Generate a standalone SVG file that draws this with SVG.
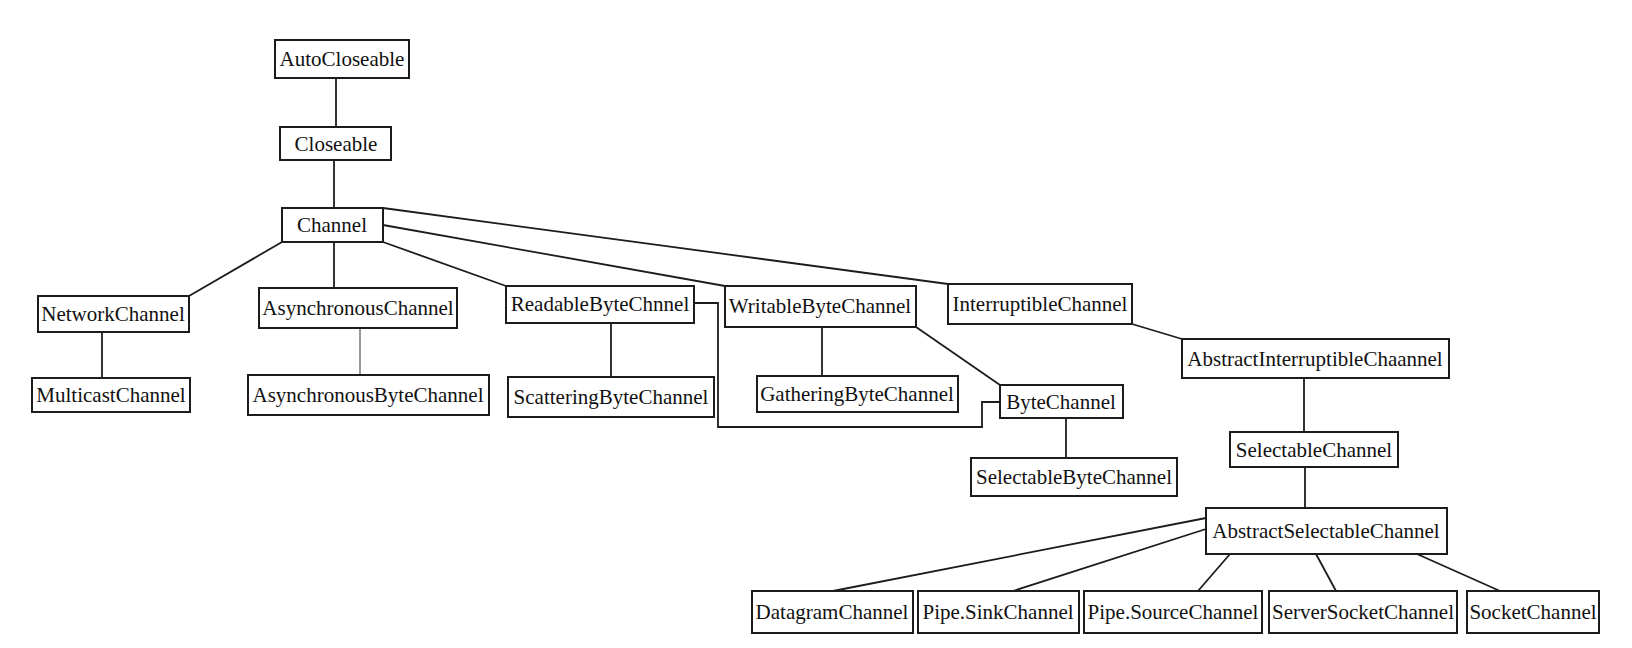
<svg xmlns="http://www.w3.org/2000/svg" width="1632" height="648" viewBox="0 0 1632 648">
<style>
  .box rect { fill: #ffffff; stroke: #1c1c1c; stroke-width: 2; }
  .box text { font-family: "Liberation Serif", "Times New Roman", serif; font-size: 21px; fill: #111111; text-anchor: middle; }
  .edges { fill: none; stroke: #1c1c1c; stroke-width: 1.8; }
  .thin { stroke: #555555; stroke-width: 1.2; }
</style>
<rect x="0" y="0" width="1632" height="648" fill="#ffffff"/>
<g id="edges" class="edges">
  <line x1="336" y1="78" x2="336" y2="127"/>
  <line x1="334" y1="160" x2="334" y2="208"/>
  <line x1="282" y1="242" x2="189" y2="296"/>
  <line x1="334" y1="242" x2="334" y2="288"/>
  <line x1="383" y1="242" x2="506" y2="286"/>
  <line x1="383" y1="225" x2="725" y2="286"/>
  <line x1="383" y1="208" x2="948" y2="284"/>
  <line x1="102" y1="332" x2="102" y2="378"/>
  <line class="thin" x1="360" y1="328" x2="360" y2="375"/>
  <line x1="611" y1="323" x2="611" y2="377"/>
  <polyline points="694,303 718,303 718,427 982,427 982,402 1000,402"/>
  <line x1="822" y1="327" x2="822" y2="376"/>
  <line x1="916" y1="327" x2="1000" y2="385"/>
  <line x1="1066" y1="418" x2="1066" y2="458"/>
  <line x1="1132" y1="324" x2="1182" y2="339"/>
  <line x1="1304" y1="378" x2="1304" y2="432"/>
  <line x1="1305" y1="467" x2="1305" y2="508"/>
  <line x1="1206" y1="518" x2="833" y2="591"/>
  <line x1="1206" y1="529" x2="1013" y2="591"/>
  <line x1="1230" y1="554" x2="1198" y2="591"/>
  <line x1="1316" y1="554" x2="1336" y2="591"/>
  <line x1="1417" y1="554" x2="1500" y2="591"/>
</g>
<g id="AutoCloseable" class="box"><rect x="275" y="40" width="134" height="38"/><text x="342" y="66">AutoCloseable</text></g>
<g id="Closeable" class="box"><rect x="280" y="127" width="111" height="33"/><text x="336" y="151">Closeable</text></g>
<g id="Channel" class="box"><rect x="282" y="208" width="101" height="34"/><text x="332" y="232">Channel</text></g>
<g id="NetworkChannel" class="box"><rect x="38" y="296" width="151" height="36"/><text x="113" y="321">NetworkChannel</text></g>
<g id="MulticastChannel" class="box"><rect x="32" y="378" width="158" height="34"/><text x="111" y="402">MulticastChannel</text></g>
<g id="AsynchronousChannel" class="box"><rect x="259" y="288" width="198" height="40"/><text x="358" y="315">AsynchronousChannel</text></g>
<g id="AsynchronousByteChannel" class="box"><rect x="248" y="375" width="241" height="40"/><text x="368" y="402">AsynchronousByteChannel</text></g>
<g id="ReadableByteChnnel" class="box"><rect x="506" y="286" width="188" height="37"/><text x="600" y="311">ReadableByteChnnel</text></g>
<g id="ScatteringByteChannel" class="box"><rect x="508" y="377" width="206" height="40"/><text x="611" y="404">ScatteringByteChannel</text></g>
<g id="WritableByteChannel" class="box"><rect x="725" y="286" width="191" height="41"/><text x="820" y="313">WritableByteChannel</text></g>
<g id="GatheringByteChannel" class="box"><rect x="757" y="376" width="201" height="36"/><text x="857" y="401">GatheringByteChannel</text></g>
<g id="InterruptibleChannel" class="box"><rect x="948" y="284" width="184" height="40"/><text x="1040" y="311">InterruptibleChannel</text></g>
<g id="ByteChannel" class="box"><rect x="1000" y="385" width="123" height="33"/><text x="1061" y="409">ByteChannel</text></g>
<g id="SelectableByteChannel" class="box"><rect x="971" y="458" width="206" height="38"/><text x="1074" y="484">SelectableByteChannel</text></g>
<g id="AbstractInterruptibleChaannel" class="box"><rect x="1182" y="339" width="267" height="39"/><text x="1315" y="366">AbstractInterruptibleChaannel</text></g>
<g id="SelectableChannel" class="box"><rect x="1230" y="432" width="168" height="35"/><text x="1314" y="457">SelectableChannel</text></g>
<g id="AbstractSelectableChannel" class="box"><rect x="1206" y="508" width="241" height="46"/><text x="1326" y="538">AbstractSelectableChannel</text></g>
<g id="DatagramChannel" class="box"><rect x="752" y="591" width="161" height="42"/><text x="832" y="619">DatagramChannel</text></g>
<g id="PipeSinkChannel" class="box"><rect x="918" y="591" width="161" height="42"/><text x="998" y="619">Pipe.SinkChannel</text></g>
<g id="PipeSourceChannel" class="box"><rect x="1084" y="591" width="178" height="42"/><text x="1173" y="619">Pipe.SourceChannel</text></g>
<g id="ServerSocketChannel" class="box"><rect x="1269" y="591" width="188" height="42"/><text x="1363" y="619">ServerSocketChannel</text></g>
<g id="SocketChannel" class="box"><rect x="1467" y="591" width="132" height="42"/><text x="1533" y="619">SocketChannel</text></g>
</svg>
